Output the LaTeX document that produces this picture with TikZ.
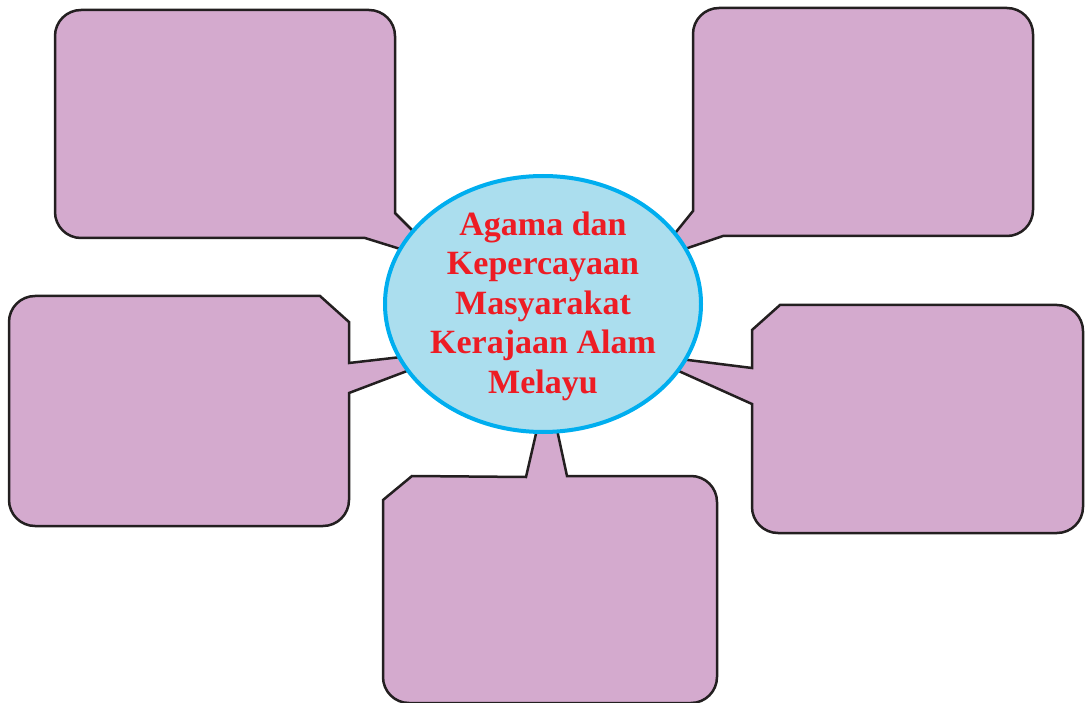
\documentclass[tikz,border=0pt]{standalone}
\usepackage{fontspec}
\setmainfont{Liberation Serif}
\usetikzlibrary{shapes}
\definecolor{boxfill}{RGB}{212,170,206}
\definecolor{boxline}{RGB}{35,31,32}
\definecolor{hubfill}{RGB}{171,222,238}
\definecolor{hubline}{RGB}{0,174,239}
\definecolor{hubred}{RGB}{237,28,36}
\begin{document}
\begin{tikzpicture}[x=1pt,y=-1pt,
box/.style={fill=boxfill,draw=boxline,line width=2.5pt},
hub/.style={shape=ellipse,fill=hubfill,draw=hubline,line width=4pt,minimum width=316pt,minimum height=256pt,inner sep=0pt},
hubtxt/.style={align=center,text=hubred,inner sep=0pt,font=\fontsize{34}{39.5}\selectfont\bfseries}]
\useasboundingbox (0,0) rectangle (1085,703);
\path[box] (395,213) -- (395,36) arc(0:-90:26) -- (81,10) arc(-90:-180:26) -- (55,212) arc(180:90:26) -- (365,238) -- (410,252) -- (420,238) -- cycle;
\path[box] (693,211) -- (693,34) arc(180:270:26) -- (1007,8) arc(270:360:26) -- (1033,210) arc(0:90:26) -- (723,236) -- (676,252) -- (668,242) -- cycle;
\path[box] (9,322) arc(180:270:26) -- (320,296) -- (349,322) -- (349,363) -- (410,356) -- (415,368) -- (349,393) -- (349,500) arc(0:90:26) -- (35,526) arc(90:180:26) -- cycle;
\path[box] (780,305) -- (1057,305) arc(270:360:26) -- (1083,507) arc(0:90:26) -- (778,533) arc(90:180:26) -- (752,404) -- (672,368) -- (680,359) -- (752,368) -- (752,330) -- cycle;
\path[box] (412,476) -- (526,477) -- (538,425) -- (556,425) -- (567,476) -- (691,476) arc(270:360:26) -- (717,677) arc(0:90:26) -- (409,703) arc(90:180:26) -- (383,500) -- cycle;

\node[hub] (hub) at (543,304) {};
\node[hubtxt] (title) at (543,306) {Agama dan\\Kepercayaan\\Masyarakat\\Kerajaan Alam\\Melayu};
\end{tikzpicture}
\end{document}
